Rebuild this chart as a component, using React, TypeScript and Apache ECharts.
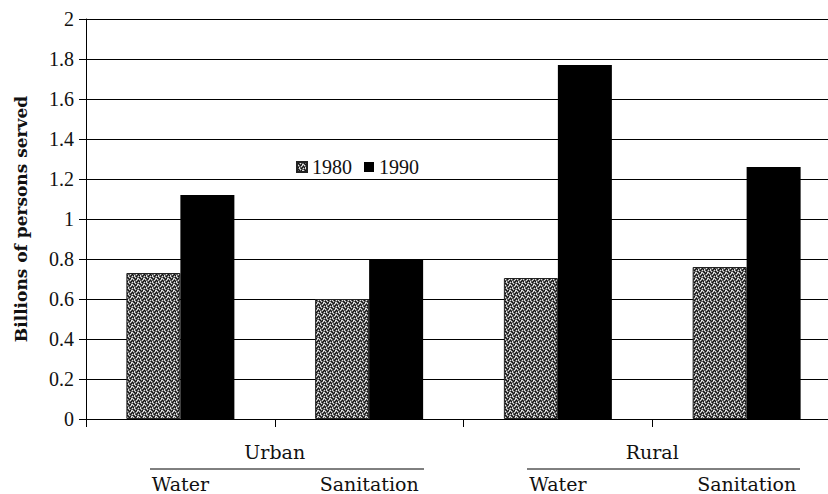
import React, { useEffect, useRef } from "react";
import * as echarts from "echarts";

const subCategories = ["Water", "Sanitation", "Water", "Sanitation"];
const groupCategories = ["Urban", "Rural"];
const series1980 = [0.73, 0.6, 0.705, 0.76];
const series1990 = [1.12, 0.8, 1.77, 1.26];
const seriesNames = ["1980", "1990"];

function makePattern(): HTMLCanvasElement {
  const c = document.createElement("canvas");
  c.width = 6;
  c.height = 6;
  const ctx = c.getContext("2d")!;
  ctx.fillStyle = "#5e5e5e";
  ctx.fillRect(0, 0, 6, 6);
  const white = [[0, 0], [3, 1], [1, 3], [4, 4], [2, 5], [5, 2], [2, 0], [5, 3], [0, 2]];
  const black = [[1, 1], [4, 0], [0, 4], [3, 3], [5, 5], [2, 2], [1, 5], [4, 2]];
  ctx.fillStyle = "#e0e0e0";
  white.forEach(([x, y]) => ctx.fillRect(x, y, 1, 1));
  ctx.fillStyle = "#111111";
  black.forEach(([x, y]) => ctx.fillRect(x, y, 1, 1));
  return c;
}

export default function App() {
  const ref = useRef<HTMLDivElement>(null);
  useEffect(() => {
    if (!ref.current) return;
    const chart = echarts.init(ref.current, undefined, { renderer: "svg" });
    const serif = "Liberation Serif";
    const catFont = "DejaVu Serif";
    const pattern = { image: makePattern(), repeat: "repeat" } as any;
    chart.setOption({
      animation: false,
      backgroundColor: "#ffffff",
      legend: {
        left: 291,
        top: 152,
        itemWidth: 10,
        itemHeight: 10,
        itemGap: 12,
        icon: "rect",
        textStyle: { fontFamily: serif, fontSize: 20, color: "#111" },
        data: seriesNames,
      },
      grid: { left: 86, width: 755, top: 19, bottom: 75, outerBoundsMode: "none", containLabel: false },
      xAxis: [
        {
          type: "category",
          data: subCategories,
          axisLine: { show: true, lineStyle: { color: "#000", width: 1 } },
          axisTick: { show: true, length: 8, lineStyle: { color: "#000" } },
          axisLabel: { margin: 55, fontFamily: catFont, fontSize: 19, color: "#111" },
        },
        {
          type: "category",
          data: groupCategories,
          position: "bottom",
          axisLine: { show: false },
          axisTick: { show: false },
          splitLine: { show: false },
          axisLabel: { margin: 23, fontFamily: catFont, fontSize: 19, color: "#111" },
        },
      ],
      yAxis: {
        type: "value",
        min: 0,
        max: 2,
        interval: 0.2,
        name: "Billions of persons served",
        nameLocation: "middle",
        nameGap: 57,
        nameTextStyle: { fontFamily: "DejaVu Serif", fontWeight: "bold", fontSize: 17, color: "#111" },
        axisLine: { show: true, lineStyle: { color: "#000", width: 1 } },
        axisTick: { show: true, length: 7, lineStyle: { color: "#000" } },
        axisLabel: { margin: 12, fontFamily: serif, fontSize: 20, color: "#111" },
        splitLine: { show: true, lineStyle: { color: "#000", width: 1 } },
      },
      series: [
        {
          name: seriesNames[0],
          type: "bar",
          xAxisIndex: 0,
          data: series1980,
          barWidth: 54,
          barGap: "0%",
          itemStyle: { color: pattern, borderColor: "#222", borderWidth: 1 },
        },
        {
          name: seriesNames[1],
          type: "bar",
          xAxisIndex: 0,
          data: series1990,
          barWidth: 54,
          barGap: "0%",
          itemStyle: { color: "#000" },
        },
      ],
      graphic: [
        { type: "line", shape: { x1: 150, y1: 469, x2: 424, y2: 469 }, style: { stroke: "#000", lineWidth: 1 } },
        { type: "line", shape: { x1: 527, y1: 469, x2: 800, y2: 469 }, style: { stroke: "#000", lineWidth: 1 } },
      ],
    });
    return () => chart.dispose();
  }, []);
  return <div ref={ref} style={{ width: 828, height: 494, position: "absolute", left: 0, top: 0 }} />;
}
